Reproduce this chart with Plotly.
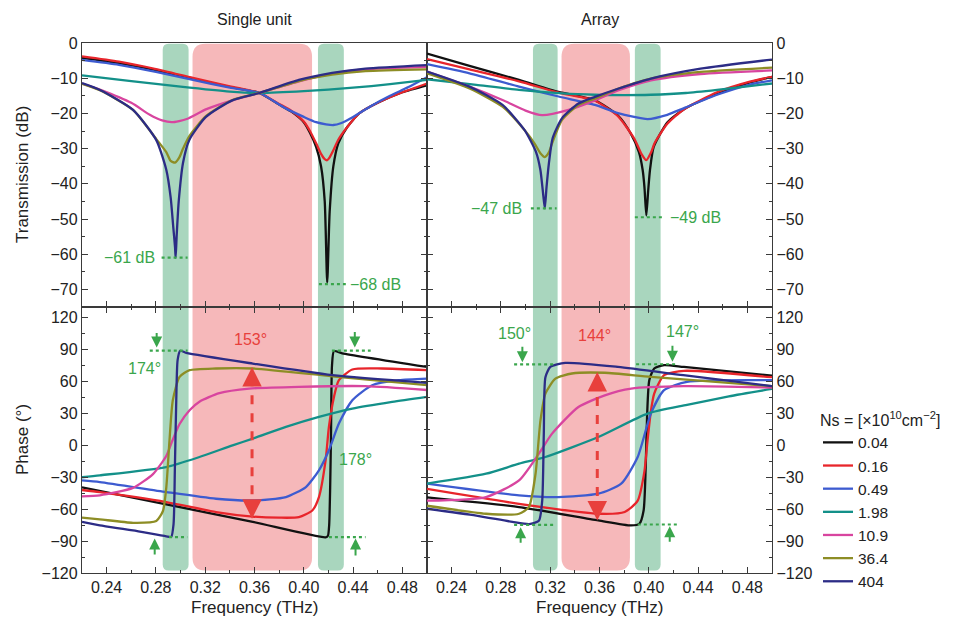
import plotly.graph_objects as go

FONT = "Liberation Sans, Arial, Helvetica, sans-serif"
ns_labels = ["0.04", "0.16", "0.49", "1.98", "10.9", "36.4", "404"]
line_colors = ["#111111", "#e8252b", "#3d5bd0", "#139089", "#d8459f", "#8d8d25", "#2c2c86"]

# ---------------- Single unit : transmission (dB) ----------------
su_t_f_004 = [0.22, 0.25, 0.28, 0.31, 0.34, 0.364, 0.38, 0.39, 0.40, 0.405, 0.41, 0.414, 0.417, 0.419, 0.421, 0.424, 0.428, 0.435, 0.445, 0.46, 0.48, 0.50]
su_t_v_004 = [-4.2, -5.7, -7.7, -10.2, -12.5, -14.2, -17.5, -19.5, -22.5, -25.5, -29.5, -35, -45, -68, -48, -35, -28.5, -24, -20, -17, -14, -12]
su_t_f_016 = [0.22, 0.25, 0.28, 0.31, 0.34, 0.364, 0.38, 0.39, 0.40, 0.405, 0.41, 0.414, 0.417, 0.419, 0.421, 0.424, 0.428, 0.435, 0.445, 0.46, 0.48, 0.50]
su_t_v_016 = [-3.8, -5.3, -7.4, -9.9, -12.3, -14.2, -17.3, -19.3, -22.3, -25, -28.5, -31.5, -33, -33.3, -32.5, -30.5, -27.5, -24, -20, -17, -14, -11.5]
su_t_f_049 = [0.22, 0.25, 0.28, 0.31, 0.34, 0.364, 0.385, 0.40, 0.41, 0.418, 0.424, 0.43, 0.44, 0.455, 0.47, 0.485, 0.50]
su_t_v_049 = [-4.8, -6.2, -8.2, -10.5, -12.7, -14.2, -18.5, -21, -22.5, -23.1, -23.3, -22.8, -21, -17.8, -15, -12.5, -9.7]
su_t_f_198 = [0.22, 0.26, 0.30, 0.34, 0.364, 0.40, 0.44, 0.47, 0.50]
su_t_v_198 = [-9.2, -10.8, -12.4, -13.8, -14.2, -13.7, -12.7, -11.7, -10.5]
su_t_f_109 = [0.22, 0.235, 0.26, 0.275, 0.285, 0.293, 0.305, 0.321, 0.342, 0.364, 0.396, 0.423, 0.45, 0.50]
su_t_v_109 = [-11.5, -13.3, -17, -20.4, -22, -22.5, -21.6, -18.8, -16.3, -14.2, -10.9, -8.7, -7.5, -6.8]
su_t_f_364 = [0.22, 0.235, 0.2614, 0.2803, 0.2884, 0.292, 0.2955, 0.299, 0.302, 0.307, 0.3206, 0.342, 0.364, 0.396, 0.423, 0.45, 0.50]
su_t_v_364 = [-11.6, -13.5, -19, -27.3, -31, -33.5, -34, -32.5, -30, -26.5, -20.8, -16.2, -14.2, -10.8, -9, -8, -7.5]
su_t_f_404 = [0.22, 0.235, 0.2614, 0.2803, 0.2884, 0.292, 0.294, 0.2955, 0.296, 0.2968, 0.2985, 0.302, 0.307, 0.3206, 0.342, 0.364, 0.396, 0.423, 0.45, 0.50]
su_t_v_404 = [-11.4, -13.4, -19, -27.6, -36, -44, -52, -58, -61, -55, -45, -34, -27.6, -21, -16.3, -14.2, -10.5, -8.5, -7.3, -6.3]

# ---------------- Array : transmission (dB) ----------------
ar_t_f_004 = [0.22, 0.2545, 0.2947, 0.3268, 0.3563, 0.375, 0.385, 0.392, 0.395, 0.3965, 0.398, 0.3995, 0.401, 0.404, 0.4152, 0.4286, 0.4554, 0.4821, 0.50]
ar_t_v_004 = [-3, -6.5, -10.5, -13.9, -16.3, -20.6, -25.5, -31, -36, -41, -49, -42, -36, -29.5, -22.5, -18.8, -14.5, -11.2, -9.6]
ar_t_f_016 = [0.22, 0.2545, 0.2947, 0.3268, 0.3563, 0.375, 0.3884, 0.394, 0.398, 0.402, 0.4045, 0.4152, 0.4286, 0.4554, 0.4821, 0.50]
ar_t_v_016 = [-4.6, -7.5, -10.9, -14.1, -16.4, -20.8, -27.3, -31.5, -33.3, -31, -28.6, -22.9, -18.8, -14, -11, -9.6]
ar_t_f_049 = [0.22, 0.2545, 0.2947, 0.3268, 0.3563, 0.375, 0.3991, 0.415, 0.4286, 0.4554, 0.4821, 0.50]
ar_t_v_049 = [-6, -8.6, -12.4, -15.2, -17.6, -19.9, -21.6, -20.4, -18.5, -14.7, -11.8, -10.6]
ar_t_f_198 = [0.22, 0.26, 0.2947, 0.33, 0.3563, 0.38, 0.4018, 0.43, 0.4554, 0.48, 0.50]
ar_t_v_198 = [-10.3, -11.9, -13.3, -14.3, -14.7, -14.8, -14.7, -14.2, -13.3, -12.3, -11.5]
ar_t_f_109 = [0.22, 0.2545, 0.2813, 0.30, 0.3134, 0.3349, 0.3563, 0.375, 0.4018, 0.442, 0.50]
ar_t_v_109 = [-8.1, -12.4, -16.2, -19.2, -20.5, -19, -16.3, -13.5, -10.6, -8.8, -7.8]
ar_t_f_364 = [0.22, 0.2545, 0.2813, 0.2991, 0.3072, 0.312, 0.3156, 0.319, 0.3215, 0.3295, 0.3429, 0.3563, 0.375, 0.4018, 0.442, 0.50]
ar_t_v_364 = [-8.6, -12.9, -18.1, -24.7, -28.5, -31.3, -32.4, -31, -28.5, -21.9, -17.6, -15.8, -13, -10.1, -8.2, -7]
ar_t_f_404 = [0.22, 0.2545, 0.2813, 0.2991, 0.3085, 0.312, 0.314, 0.3156, 0.317, 0.319, 0.322, 0.3295, 0.3429, 0.3563, 0.375, 0.4018, 0.442, 0.50]
ar_t_v_404 = [-8.1, -12.4, -17.6, -24.7, -31, -36, -42, -47, -41, -34, -27, -21.4, -17.2, -15.3, -13, -10.1, -7.3, -4.7]

# ---------------- Single unit : phase (deg) ----------------
su_p_f_004 = [0.22, 0.2884, 0.3586, 0.4177, 0.4196, 0.4206, 0.4214, 0.4221, 0.4229, 0.4245, 0.4312, 0.50]
su_p_v_004 = [-39.5, -55.5, -72, -86.5, -85, -75, -40, 11, 75, 88.5, 86.5, 73.7]
su_p_f_016 = [0.22, 0.2345, 0.2884, 0.3288, 0.3586, 0.38, 0.396, 0.4069, 0.4123, 0.4177, 0.4204, 0.4245, 0.4285, 0.4394, 0.4636, 0.50]
su_p_v_016 = [-42, -44, -53.3, -62.7, -67, -68, -67.5, -61.2, -48.6, -14.1, 17.3, 45.5, 61.2, 71.3, 72.2, 70.6]
su_p_f_049 = [0.22, 0.2345, 0.2884, 0.3288, 0.3586, 0.3855, 0.4017, 0.4123, 0.4204, 0.4285, 0.4394, 0.4555, 0.4771, 0.50]
su_p_v_049 = [-33, -34.5, -43.9, -50.2, -51.8, -48.6, -39.2, -23.5, -4.7, 20.4, 42.4, 56.5, 61.2, 62.7]
su_p_f_198 = [0.22, 0.2345, 0.2884, 0.3153, 0.3422, 0.3586, 0.3855, 0.4123, 0.4394, 0.4717, 0.50]
su_p_v_198 = [-30, -28.2, -20.4, -11, 0, 6.3, 17.3, 26.7, 34.5, 40.8, 45.5]
su_p_f_109 = [0.22, 0.2345, 0.2614, 0.2776, 0.2884, 0.2925, 0.2992, 0.3073, 0.3153, 0.3315, 0.3557, 0.396, 0.4499, 0.50]
su_p_v_109 = [-48, -47, -40, -27, -10, 2, 20, 33, 41, 49, 53.3, 55, 55.6, 52]
su_p_f_364 = [0.22, 0.2345, 0.2614, 0.2803, 0.2857, 0.2884, 0.291, 0.2937, 0.2992, 0.3073, 0.3288, 0.3586, 0.4231, 0.50]
su_p_v_364 = [-68, -69.6, -72.8, -71.1, -61.7, -39.7, 4.4, 42.4, 64.3, 70.6, 72.2, 72.2, 64.9, 56.5]
su_p_f_404 = [0.22, 0.2345, 0.2614, 0.2884, 0.2924, 0.2943, 0.2954, 0.2965, 0.2976, 0.2997, 0.3046, 0.3586, 0.4231, 0.50]
su_p_v_404 = [-72, -75.3, -80, -85.6, -86, -74, -20.4, 42.4, 80, 88.8, 86.9, 76.8, 65.9, 58.7]

# ---------------- Array : phase (deg) ----------------
ar_p_f_004 = [0.22, 0.2947, 0.359, 0.3857, 0.3924, 0.3958, 0.3975, 0.3986, 0.4004, 0.4044, 0.4124, 0.4285, 0.50]
ar_p_v_004 = [-49, -58, -70.6, -75.3, -73.7, -61.2, -20.4, 26.7, 61.2, 72.2, 75.3, 73.7, 65.5]
ar_p_f_016 = [0.22, 0.2947, 0.359, 0.3804, 0.391, 0.3964, 0.399, 0.4017, 0.4044, 0.4124, 0.4285, 0.50]
ar_p_v_016 = [-41, -55, -64.3, -62.7, -52, -25, 4.7, 32, 48.6, 65.9, 70, 64]
ar_p_f_049 = [0.22, 0.2947, 0.3268, 0.359, 0.3776, 0.391, 0.4017, 0.4124, 0.431, 0.50]
ar_p_v_049 = [-36, -47, -48.6, -45.5, -36.1, -11, 29.8, 51.8, 59.6, 61.2]
ar_p_f_198 = [0.22, 0.2679, 0.2947, 0.3161, 0.359, 0.399, 0.431, 0.465, 0.50]
ar_p_v_198 = [-36, -26.7, -17.3, -11, 7.8, 29.8, 38, 46, 53]
ar_p_f_109 = [0.22, 0.2679, 0.2947, 0.3108, 0.3215, 0.3429, 0.3643, 0.3857, 0.4285, 0.50]
ar_p_v_109 = [-52, -48.6, -33, -7.8, 11, 36, 47, 53.3, 55.6, 54.3]
ar_p_f_364 = [0.22, 0.2679, 0.2947, 0.3027, 0.3081, 0.3121, 0.3161, 0.3242, 0.3376, 0.3643, 0.4018, 0.50]
ar_p_v_364 = [-56.8, -64.3, -64.3, -58, -26.7, 23.5, 48.6, 62.7, 67.5, 68.2, 64.3, 55.6]
ar_p_f_404 = [0.22, 0.26, 0.2894, 0.303, 0.3108, 0.3135, 0.3148, 0.3161, 0.3201, 0.3322, 0.375, 0.428, 0.50]
ar_p_v_404 = [-59.6, -66, -72, -74, -71, -52, 11, 64, 73.7, 77.5, 73.7, 65.9, 55.6]

# shaded frequency bands (THz): (start, end, kind)
bands_single = [(0.2855, 0.3065, "g"), (0.3097, 0.4067, "p"), (0.4115, 0.4325, "g")]
bands_array = [(0.306, 0.326, "g"), (0.3292, 0.3847, "p"), (0.3887, 0.4096, "g")]

panels = [
    ("x", "y", [(su_t_f_004, su_t_v_004), (su_t_f_016, su_t_v_016), (su_t_f_049, su_t_v_049), (su_t_f_198, su_t_v_198),
                (su_t_f_109, su_t_v_109), (su_t_f_364, su_t_v_364), (su_t_f_404, su_t_v_404)]),
    ("x2", "y2", [(ar_t_f_004, ar_t_v_004), (ar_t_f_016, ar_t_v_016), (ar_t_f_049, ar_t_v_049), (ar_t_f_198, ar_t_v_198),
                  (ar_t_f_109, ar_t_v_109), (ar_t_f_364, ar_t_v_364), (ar_t_f_404, ar_t_v_404)]),
    ("x3", "y3", [(su_p_f_004, su_p_v_004), (su_p_f_016, su_p_v_016), (su_p_f_049, su_p_v_049), (su_p_f_198, su_p_v_198),
                  (su_p_f_109, su_p_v_109), (su_p_f_364, su_p_v_364), (su_p_f_404, su_p_v_404)]),
    ("x4", "y4", [(ar_p_f_004, ar_p_v_004), (ar_p_f_016, ar_p_v_016), (ar_p_f_049, ar_p_v_049), (ar_p_f_198, ar_p_v_198),
                  (ar_p_f_109, ar_p_v_109), (ar_p_f_364, ar_p_v_364), (ar_p_f_404, ar_p_v_404)]),
]

fig = go.Figure()
for pi, (xa, ya, curves) in enumerate(panels):
    for ci, (f, v) in enumerate(curves):
        fig.add_trace(go.Scatter(
            x=f, y=v, xaxis=xa, yaxis=ya, mode="lines",
            line=dict(color=line_colors[ci], width=2.3, shape="spline", smoothing=0.6),
            name=ns_labels[ci], showlegend=(pi == 0),
        ))

W, H = 957, 628
XL = [82 / W, 427 / W]
XR = [427 / W, 772 / W]
YT = [1 - 307 / H, 1 - 43 / H]
YB = [1 - 573 / H, 1 - 307 / H]
AX = "#3a3a3a"
tickfont = dict(family=FONT, size=16, color="#222222")


def xaxis(domain, anchor, labels, mirror):
    return dict(domain=domain, anchor=anchor, range=[0.22, 0.50], tick0=0.24, dtick=0.04,
                ticks="inside", ticklen=6, tickwidth=1.3, tickcolor=AX,
                showline=True, linecolor=AX, linewidth=1.4, mirror=mirror,
                showgrid=False, zeroline=False, showticklabels=labels, tickformat=".2f",
                tickfont=tickfont, automargin=False,
                minor=dict(dtick=0.02, tick0=0.22, ticks="inside", ticklen=3, tickcolor=AX, showgrid=False))


def yaxis(domain, anchor, side, rng, dtick, mdtick):
    return dict(domain=domain, anchor=anchor, side=side, range=rng, tick0=0, dtick=dtick,
                ticks="inside", ticklen=6, tickwidth=1.3, tickcolor=AX,
                showline=True, linecolor=AX, linewidth=1.4, mirror="allticks",
                showgrid=False, zeroline=False, tickfont=tickfont, automargin=False,
                minor=dict(dtick=mdtick, tick0=0, ticks="inside", ticklen=3, tickcolor=AX, showgrid=False))


fig.update_layout(
    width=W, height=H, margin=dict(l=0, r=0, t=0, b=0, autoexpand=False),
    paper_bgcolor="white", plot_bgcolor="rgba(0,0,0,0)",
    font=dict(family=FONT, size=15, color="#222222"),
    xaxis=xaxis(XL, "y", False, True),
    yaxis=yaxis(YT, "x", "left", [-75, 0], 10, 5),
    xaxis2=xaxis(XR, "y2", False, True),
    yaxis2=yaxis(YT, "x2", "right", [-75, 0], 10, 5),
    xaxis3=xaxis(XL, "y3", True, "allticks"),
    yaxis3=yaxis(YB, "x3", "left", [-120, 130], 30, 15),
    xaxis4=xaxis(XR, "y4", True, "allticks"),
    yaxis4=yaxis(YB, "x4", "right", [-120, 130], 30, 15),
    showlegend=True,
    legend=dict(x=818 / W, y=1 - 405 / H, xanchor="left", yanchor="top", tracegroupgap=0,
                bgcolor="rgba(0,0,0,0)", font=dict(family=FONT, size=15.5, color="#222222"),
                title=dict(text="Ns = [×10<sup>10</sup>cm<sup>−2</sup>]", font=dict(family=FONT, size=16))),
)

# ---- shaded bands with rounded corners ----
GREEN_BAND = "#a9d6be"
PINK_BAND = "#f6b8ba"


def rounded(x0, x1, y0, y1, rpx):
    rx = rpx / 1240.0
    ry = rpx / H
    return (f"M{x0 + rx},{y1} L{x1 - rx},{y1} Q{x1},{y1} {x1},{y1 - ry} L{x1},{y0 + ry} "
            f"Q{x1},{y0} {x1 - rx},{y0} L{x0 + rx},{y0} Q{x0},{y0} {x0},{y0 + ry} "
            f"L{x0},{y1 - ry} Q{x0},{y1} {x0 + rx},{y1} Z")


for xr, bands in (("x3", bands_single), ("x4", bands_array)):
    for a, b, kind in bands:
        r = 13 if kind == "p" else 6
        fig.add_shape(type="path", path=rounded(a, b, YB[0] + 0.004, YT[1] - 0.001, r),
                      xref=xr, yref="paper", layer="below", line=dict(width=0),
                      fillcolor=PINK_BAND if kind == "p" else GREEN_BAND)

GREEN = "#3aa64c"
RED = "#e8403c"

# dotted level markers: (xref, yref, f0, f1, level)
dotted = [
    ("x", "y", 0.2846, 0.3057, -61), ("x", "y", 0.4123, 0.4341, -68.5),
    ("x2", "y2", 0.3043, 0.3252, -47), ("x2", "y2", 0.3887, 0.4128, -49.5),
    ("x3", "y3", 0.275, 0.3057, 89), ("x3", "y3", 0.2906, 0.3054, -86.3),
    ("x3", "y3", 0.4228, 0.4543, 89), ("x3", "y3", 0.4204, 0.4501, -86.3),
    ("x4", "y4", 0.2907, 0.3247, 76), ("x4", "y4", 0.2907, 0.3247, -74.7),
    ("x4", "y4", 0.3897, 0.4232, 76.2), ("x4", "y4", 0.3911, 0.4246, -74.4),
]
for xr, yr, a, b, lv in dotted:
    fig.add_shape(type="line", xref=xr, yref=yr, x0=a, x1=b, y0=lv, y1=lv,
                  line=dict(color=GREEN, width=2.2, dash="dot"))

# text labels
labels = [
    ("x", "y", 0.2806, -61, "−61 dB", "right", GREEN),
    ("x", "y", 0.4358, -68.5, "−68 dB", "left", GREEN),
    ("x2", "y2", 0.2987, -47, "−47 dB", "right", GREEN),
    ("x2", "y2", 0.4152, -49.5, "−49 dB", "left", GREEN),
    ("x3", "y3", 0.271, 72.5, "174°", "center", GREEN),
    ("x3", "y3", 0.3571, 99, "153°", "center", RED),
    ("x3", "y3", 0.442, -13.5, "178°", "center", GREEN),
    ("x4", "y4", 0.2907, 105, "150°", "center", GREEN),
    ("x4", "y4", 0.3563, 103.5, "144°", "center", RED),
    ("x4", "y4", 0.4272, 106.6, "147°", "center", GREEN),
]
for xr, yr, x, y, t, anc, col in labels:
    fig.add_annotation(xref=xr, yref=yr, x=x, y=y, text=t, showarrow=False, xanchor=anc,
                       font=dict(family=FONT, size=16, color=col))

# small green arrows: (xref, yref, f, head, tail)
garrows = [
    ("x3", "y3", 0.2806, 92, 107), ("x3", "y3", 0.279, -87.5, -104),
    ("x3", "y3", 0.4414, 92, 108), ("x3", "y3", 0.442, -87.5, -105),
    ("x4", "y4", 0.2974, 78, 94), ("x4", "y4", 0.296, -77, -93),
    ("x4", "y4", 0.4192, 78.5, 95), ("x4", "y4", 0.417, -76, -92),
]
for xr, yr, f, hd, tl in garrows:
    fig.add_annotation(xref=xr, yref=yr, axref=xr, ayref=yr, x=f, y=hd, ax=f, ay=tl, text="",
                       showarrow=True, arrowhead=2, arrowsize=1.1, arrowwidth=2, arrowcolor=GREEN)

# red dashed double arrows: (xref, yref, f, low, high)
rarrows = [("x3", "y3", 0.358, -69, 73.5), ("x4", "y4", 0.3582, -70.6, 69)]
for xr, yr, f, lo, hi in rarrows:
    fig.add_shape(type="line", xref=xr, yref=yr, x0=f, x1=f, y0=lo + 6, y1=hi - 6,
                  line=dict(color=RED, width=3, dash="dash"))
    fig.add_annotation(xref=xr, yref=yr, axref=xr, ayref=yr, x=f, y=hi, ax=f, ay=hi - 9, text="",
                       showarrow=True, arrowhead=2, arrowsize=1.5, arrowwidth=2.6, arrowcolor=RED)
    fig.add_annotation(xref=xr, yref=yr, axref=xr, ayref=yr, x=f, y=lo, ax=f, ay=lo + 9, text="",
                       showarrow=True, arrowhead=2, arrowsize=1.5, arrowwidth=2.6, arrowcolor=RED)

# titles and axis titles
titles = [
    ((XL[0] + XL[1]) / 2, 1 - 20 / H, "Single unit", 0, 16),
    ((XR[0] + XR[1]) / 2, 1 - 20 / H, "Array", 0, 16),
    ((XL[0] + XL[1]) / 2, 1 - 607 / H, "Frequency (THz)", 0, 17),
    ((XR[0] + XR[1]) / 2, 1 - 607 / H, "Frequency (THz)", 0, 17),
    (22 / W, (YT[0] + YT[1]) / 2, "Transmission (dB)", -90, 17),
    (22 / W, (YB[0] + YB[1]) / 2, "Phase (°)", -90, 17),
]
for x, y, t, ang, sz in titles:
    fig.add_annotation(xref="paper", yref="paper", x=x, y=y, text=t, showarrow=False,
                       textangle=ang, xanchor="center", yanchor="middle",
                       font=dict(family=FONT, size=sz, color="#222222"))

fig.write_html("out.html")
